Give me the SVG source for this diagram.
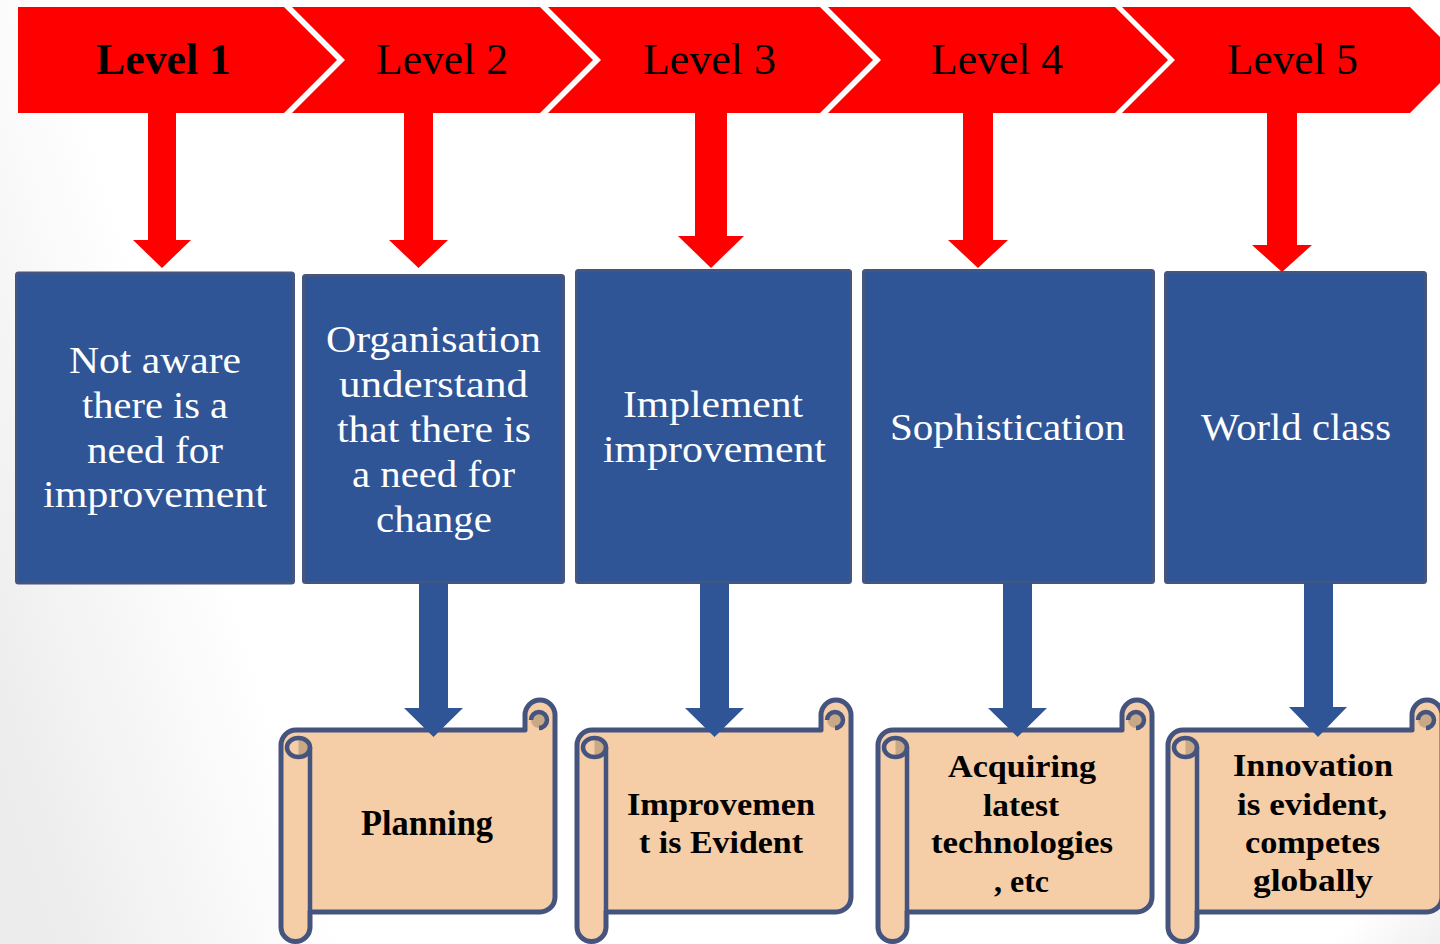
<svg xmlns="http://www.w3.org/2000/svg" xmlns:xlink="http://www.w3.org/1999/xlink" width="1440" height="944" viewBox="0 0 1440 944">
  <defs>
    <linearGradient id="bgShade" gradientUnits="userSpaceOnUse" x1="-60" y1="560" x2="200" y2="480">
      <stop offset="0" stop-color="#ECECEC"/>
      <stop offset="1" stop-color="#FFFFFF"/>
    </linearGradient>
    <linearGradient id="bgShadeR" gradientUnits="userSpaceOnUse" x1="1440" y1="944" x2="1380" y2="890">
      <stop offset="0" stop-color="#F0F0F0"/>
      <stop offset="1" stop-color="#FFFFFF"/>
    </linearGradient>
    <!-- horizontal scroll shape, local box 274 x 242 -->
    <g id="scroll">
      <path class="scroll-body" d="M0,45 A15,15 0 0 1 15,30 L244,30 L244,15 A15,15 0 0 1 274,15 L274,197 A15,15 0 0 1 259,212 L29,212 L29,227 A14.5,14.5 0 0 1 0,227 Z"/>
      <path class="scroll-dark" d="M17.5,38 A11.5,9.5 0 0 1 17.5,57 Z"/>
      <ellipse class="scroll-line" cx="17.5" cy="47.5" rx="11.5" ry="9.5"/>
      <path class="scroll-line" d="M29,47 V212"/>
      <circle class="scroll-dark" cx="258" cy="20" r="8"/>
      <path class="scroll-line" d="M250,20 A8,8 0 1 1 258,28"/>
    </g>
  </defs>
  <style>
    .chev { fill: #FF0000; }
    .lvl { font-family: "Liberation Serif", "Times New Roman", serif; font-size: 44px; fill: #000000; }
    .lvl-b { font-weight: bold; }
    .box { fill: #2F5597; stroke: #44557F; stroke-width: 3; }
    .box-text { font-family: "Liberation Serif", "Times New Roman", serif; font-size: 38px; fill: #FFFFFF; }
    .scroll-body { fill: #F5CDA7; stroke: #44547E; stroke-width: 5; stroke-linejoin: round; }
    .scroll-dark { fill: #C9A886; }
    .scroll-line { fill: none; stroke: #44547E; stroke-width: 4.5; }
    .scroll-text { font-family: "Liberation Serif", "Times New Roman", serif; font-weight: bold; font-size: 32px; fill: #000000; }
    .red-arrow { fill: #FF0000; }
    .blue-arrow { fill: #2F5597; }
  </style>

  <!-- background with soft shading at the left and bottom-right -->
  <rect x="0" y="0" width="1440" height="944" fill="url(#bgShade)"/>
  <path d="M1300,944 L1440,830 L1440,944 Z" fill="url(#bgShadeR)"/>

  <!-- level chevrons -->
  <g id="level1">
    <path class="chev" d="M18,7 H284 L337,60 L284,113 H18 Z"/>
    <text class="lvl lvl-b" x="96" y="74" textLength="135" lengthAdjust="spacingAndGlyphs">Level 1</text>
  </g>
  <g id="level2">
    <path class="chev" d="M292,7 H540 L593,60 L540,113 H292 L345,60 Z"/>
    <text class="lvl" x="376" y="74" textLength="132" lengthAdjust="spacingAndGlyphs">Level 2</text>
  </g>
  <g id="level3">
    <path class="chev" d="M548,7 H820 L873,60 L820,113 H548 L601,60 Z"/>
    <text class="lvl" x="643" y="74" textLength="133" lengthAdjust="spacingAndGlyphs">Level 3</text>
  </g>
  <g id="level4">
    <path class="chev" d="M828,7 H1115 L1168,60 L1115,113 H828 L881,60 Z"/>
    <text class="lvl" x="931" y="74" textLength="132" lengthAdjust="spacingAndGlyphs">Level 4</text>
  </g>
  <g id="level5">
    <path class="chev" d="M1122,7 H1410 L1463,60 L1410,113 H1122 L1175,60 Z"/>
    <text class="lvl" x="1227" y="74" textLength="131" lengthAdjust="spacingAndGlyphs">Level 5</text>
  </g>

  <!-- stage boxes -->
  <g id="stage1">
    <rect class="box" x="16.5" y="273" width="277" height="310" rx="2"/>
    <text class="box-text" x="69" y="373" textLength="172" lengthAdjust="spacingAndGlyphs">Not aware</text>
    <text class="box-text" x="82" y="418" textLength="146" lengthAdjust="spacingAndGlyphs">there is a</text>
    <text class="box-text" x="87" y="463" textLength="136" lengthAdjust="spacingAndGlyphs">need for</text>
    <text class="box-text" x="43" y="507" textLength="224" lengthAdjust="spacingAndGlyphs">improvement</text>
  </g>
  <g id="stage2">
    <rect class="box" x="303.5" y="275.5" width="260" height="307" rx="2"/>
    <text class="box-text" x="326" y="352" textLength="215" lengthAdjust="spacingAndGlyphs">Organisation</text>
    <text class="box-text" x="339" y="397" textLength="189" lengthAdjust="spacingAndGlyphs">understand</text>
    <text class="box-text" x="337" y="442" textLength="194" lengthAdjust="spacingAndGlyphs">that there is</text>
    <text class="box-text" x="352" y="487" textLength="163" lengthAdjust="spacingAndGlyphs">a need for</text>
    <text class="box-text" x="376" y="532" textLength="116" lengthAdjust="spacingAndGlyphs">change</text>
  </g>
  <g id="stage3">
    <rect class="box" x="576.5" y="270.5" width="274" height="312" rx="2"/>
    <text class="box-text" x="623" y="417" textLength="180" lengthAdjust="spacingAndGlyphs">Implement</text>
    <text class="box-text" x="603" y="462" textLength="223" lengthAdjust="spacingAndGlyphs">improvement</text>
  </g>
  <g id="stage4">
    <rect class="box" x="863.5" y="270.5" width="290" height="312" rx="2"/>
    <text class="box-text" x="890" y="440" textLength="235" lengthAdjust="spacingAndGlyphs">Sophistication</text>
  </g>
  <g id="stage5">
    <rect class="box" x="1165.5" y="272.5" width="260" height="310" rx="2"/>
    <text class="box-text" x="1201" y="440" textLength="190" lengthAdjust="spacingAndGlyphs">World class</text>
  </g>

  <!-- outcome scrolls -->
  <g id="outcome2">
    <use xlink:href="#scroll" href="#scroll" transform="translate(281,700)"/>
    <text class="scroll-text" style="font-size:35px" x="361" y="835" textLength="132" lengthAdjust="spacingAndGlyphs">Planning</text>
  </g>
  <g id="outcome3">
    <use xlink:href="#scroll" href="#scroll" transform="translate(577,700)"/>
    <text class="scroll-text" x="627" y="815" textLength="188" lengthAdjust="spacingAndGlyphs">Improvemen</text>
    <text class="scroll-text" x="639" y="853" textLength="164" lengthAdjust="spacingAndGlyphs">t is Evident</text>
  </g>
  <g id="outcome4">
    <use xlink:href="#scroll" href="#scroll" transform="translate(878,700)"/>
    <text class="scroll-text" x="948" y="777" textLength="148" lengthAdjust="spacingAndGlyphs">Acquiring</text>
    <text class="scroll-text" x="983" y="816" textLength="76" lengthAdjust="spacingAndGlyphs">latest</text>
    <text class="scroll-text" x="931" y="853" textLength="182" lengthAdjust="spacingAndGlyphs">technologies</text>
    <text class="scroll-text" x="994" y="892" textLength="55" lengthAdjust="spacingAndGlyphs">, etc</text>
  </g>
  <g id="outcome5">
    <use xlink:href="#scroll" href="#scroll" transform="translate(1168,700)"/>
    <text class="scroll-text" x="1233" y="776" textLength="160" lengthAdjust="spacingAndGlyphs">Innovation</text>
    <text class="scroll-text" x="1237" y="815" textLength="150" lengthAdjust="spacingAndGlyphs">is evident,</text>
    <text class="scroll-text" x="1245" y="853" textLength="135" lengthAdjust="spacingAndGlyphs">competes</text>
    <text class="scroll-text" x="1253" y="891" textLength="120" lengthAdjust="spacingAndGlyphs">globally</text>
  </g>

  <!-- connectors -->
  <g id="connectors">
    <path class="red-arrow" d="M148,113 H176 V240 H191 L162,268 L133,240 H148 Z"/>
    <path class="red-arrow" d="M404,113 H433 V240 H448 L418.5,268 L389,240 H404 Z"/>
    <path class="red-arrow" d="M695,113 H727 V236 H744 L711,268 L678,236 H695 Z"/>
    <path class="red-arrow" d="M963,113 H993 V240 H1008 L978,268 L948,240 H963 Z"/>
    <path class="red-arrow" d="M1267,113 H1297 V245 H1312 L1282,272 L1252,245 H1267 Z"/>
    <path class="blue-arrow" d="M419,583 H448 V708 H463 L433.5,737 L404,708 H419 Z"/>
    <path class="blue-arrow" d="M700,583 H729 V708 H744 L714.5,737 L685,708 H700 Z"/>
    <path class="blue-arrow" d="M1003,583 H1032 V708 H1047 L1017.5,737 L988,708 H1003 Z"/>
    <path class="blue-arrow" d="M1304,583 H1333 V707 H1347 L1318,737 L1289,707 H1304 Z"/>
  </g>
</svg>
